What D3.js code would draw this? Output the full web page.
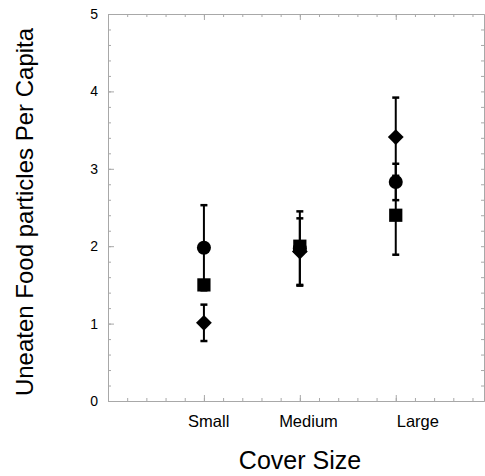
<!DOCTYPE html>
<html>
<head>
<meta charset="utf-8">
<script src="https://cdn.jsdelivr.net/npm/d3@7"></script>
<style>
  body { margin: 0; background: #fff; }
  text { font-family: "Liberation Sans", Arial, Helvetica, sans-serif; fill: #000; }
</style>
</head>
<body>
<div id="chart"></div>
<script>
var categories = ["Small", "Medium", "Large"];
var catX = [1, 2, 3];
var labelX = [1.05, 2.09, 3.23];

var circleMean = [1.98, 1.97, 2.83];
var circleErr = [0.55, 0.48, 0.235];
var squareMean = [1.50, 2.00, 2.40];
var squareErr = [0.05, 0.05, 0.51];
var diamondMean = [1.01, 1.93, 3.41];
var diamondErr = [0.235, 0.43, 0.51];

var yTicks = [0, 1, 2, 3, 4, 5];

var width = 485, height = 476;
var AXIS_COLOR = "#a8a8a8";

var svg = d3.select("#chart").append("svg")
  .attr("width", width)
  .attr("height", height);

var x = d3.scaleLinear().domain([0, 3.92]).range([108, 484]);
var y = d3.scaleLinear().domain([0, 5]).range([401, 14]);

var minorX = d3.range(0, 3.92, 0.2);
var minorY = d3.range(0, 5.001, 0.2);

// frame with inward ticks on all four sides
function styleAxis(g) {
  g.selectAll("path, line").attr("stroke", AXIS_COLOR);
  g.selectAll("text").remove();
}

svg.append("g").attr("transform", "translate(0," + y(0) + ")")
  .call(d3.axisBottom(x).tickValues(minorX).tickSize(-3).tickSizeOuter(0))
  .call(styleAxis);
svg.append("g").attr("transform", "translate(0," + y(0) + ")")
  .call(d3.axisBottom(x).tickValues(catX).tickSize(-6).tickSizeOuter(0))
  .call(styleAxis);
svg.append("g").attr("transform", "translate(0," + y(5) + ")")
  .call(d3.axisTop(x).tickValues(minorX).tickSize(-3).tickSizeOuter(0))
  .call(styleAxis);
svg.append("g").attr("transform", "translate(0," + y(5) + ")")
  .call(d3.axisTop(x).tickValues(catX).tickSize(-6).tickSizeOuter(0))
  .call(styleAxis);
svg.append("g").attr("transform", "translate(" + x.range()[1] + ",0)")
  .call(d3.axisRight(y).tickValues(minorY).tickSize(-3).tickSizeOuter(0))
  .call(styleAxis);

svg.append("g").attr("transform", "translate(" + x(0) + ",0)")
  .call(d3.axisLeft(y).tickValues(minorY).tickSize(-3).tickSizeOuter(0))
  .call(styleAxis);

var yAxis = svg.append("g").attr("transform", "translate(" + x(0) + ",0)")
  .call(d3.axisLeft(y).tickValues(yTicks).tickSize(-6).tickSizeOuter(0).tickPadding(10).tickFormat(d3.format("d")));
yAxis.selectAll("path, line").attr("stroke", AXIS_COLOR);
yAxis.selectAll("text")
  .attr("fill", "#000")
  .style("font-size", "14px")
  .style("font-family", "Liberation Sans, Arial, sans-serif");

// category labels
svg.append("g").selectAll("text")
  .data(categories)
  .enter().append("text")
  .attr("x", function(d, i) { return x(labelX[i]); })
  .attr("y", 427)
  .attr("text-anchor", "middle")
  .style("font-size", "16.5px")
  .text(function(d) { return d; });

// axis titles
svg.append("text")
  .attr("x", 300)
  .attr("y", 469)
  .attr("text-anchor", "middle")
  .style("font-size", "25px")
  .text("Cover Size");

svg.append("text")
  .attr("transform", "translate(33," + 212 + ") rotate(-90)")
  .attr("text-anchor", "middle")
  .style("font-size", "24px")
  .text("Uneaten Food particles Per Capita");

// diamond = square turned 45 degrees (d3's own diamond is too narrow)
var series = [
  { mean: circleMean, err: circleErr, shape: d3.symbolCircle, size: 155, rot: 0 },
  { mean: squareMean, err: squareErr, shape: d3.symbolSquare, size: 175, rot: 0 },
  { mean: diamondMean, err: diamondErr, shape: d3.symbolSquare, size: 125, rot: 45 }
];

// error bars first so the markers sit on top
var bars = svg.append("g");
series.forEach(function(s) {
  s.mean.forEach(function(m, i) {
    var cx = x(catX[i]);
    bars.append("line")
      .attr("x1", cx).attr("x2", cx)
      .attr("y1", y(m + s.err[i])).attr("y2", y(m - s.err[i]))
      .attr("stroke", "#000").attr("stroke-width", 2);
    [m + s.err[i], m - s.err[i]].forEach(function(v) {
      bars.append("line")
        .attr("x1", cx - 3.5).attr("x2", cx + 3.5)
        .attr("y1", y(v)).attr("y2", y(v))
        .attr("stroke", "#000").attr("stroke-width", 2.5);
    });
  });
});

var marks = svg.append("g");
series.forEach(function(s) {
  marks.selectAll(null)
    .data(s.mean)
    .enter().append("path")
    .attr("d", d3.symbol().type(s.shape).size(s.size))
    .attr("transform", function(d, i) {
      return "translate(" + x(catX[i]) + "," + y(d) + ") rotate(" + s.rot + ")";
    })
    .attr("fill", "#000");
});
</script>
</body>
</html>
